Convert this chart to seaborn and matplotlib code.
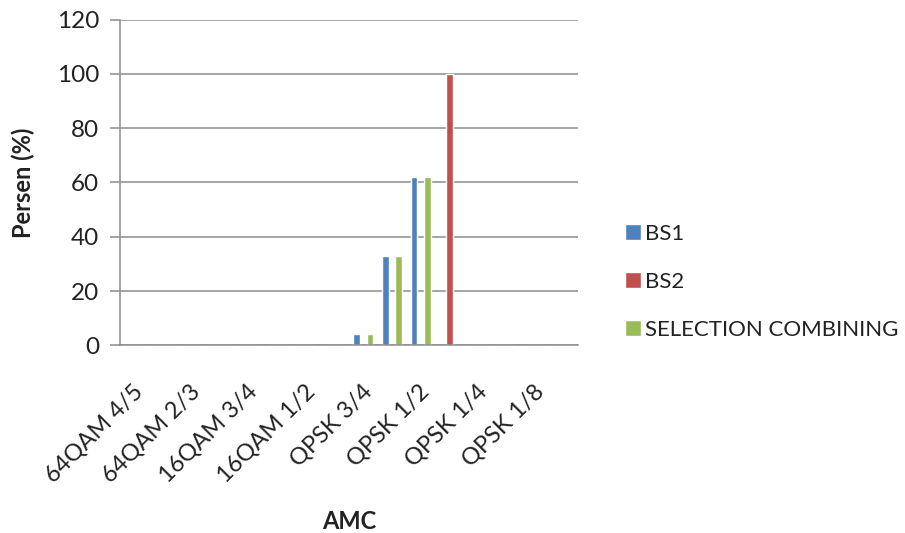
import matplotlib
matplotlib.use("Agg")
import matplotlib.pyplot as plt
import matplotlib.transforms as mtransforms
import seaborn as sns
import pandas as pd

# Category slots along the AMC axis; only every second slot carries a label
slots = list(range(16))
tick_labels = ["64QAM 4/5", "64QAM 2/3", "16QAM 3/4", "16QAM 1/2",
               "QPSK 3/4", "QPSK 1/2", "QPSK 1/4", "QPSK 1/8"]

series_names = ["BS1", "BS2", "SELECTION COMBINING"]
bs1 = [0, 0, 0, 0, 0, 0, 0, 0, 4.3, 33, 62, 0, 0, 0, 0, 0]
bs2 = [0, 0, 0, 0, 0, 0, 0, 0, 0, 0, 0, 100, 0, 0, 0, 0]
sc = [0, 0, 0, 0, 0, 0, 0, 0, 4.3, 33, 62, 0, 0, 0, 0, 0]

colors = ["#4F81BD", "#C0504D", "#9BBB59"]

rows = []
for name, vals in zip(series_names, [bs1, bs2, sc]):
    for s, v in zip(slots, vals):
        rows.append({"slot": s, "value": v, "series": name})
df = pd.DataFrame(rows)

sns.set_theme(style="white")
plt.rcParams["font.family"] = ["Lato", "DejaVu Sans"]

fig = plt.figure(figsize=(9.05, 5.33), dpi=100)
ax = fig.add_axes([0.1326, 0.3518, 0.5061, 0.6116])

sns.barplot(data=df, x="slot", y="value", hue="series", order=slots,
            hue_order=series_names, palette=colors, width=0.7,
            saturation=1, dodge=True, ax=ax, legend=True)

ax.set_xlim(-0.5, 15.5)
ax.set_ylim(0, 120)
ax.set_yticks(range(0, 121, 20))
ax.yaxis.grid(True, color="#8C8C8C", linewidth=1.1)
ax.set_axisbelow(True)

for side in ["top", "right"]:
    ax.spines[side].set_visible(False)
for side in ["left", "bottom"]:
    ax.spines[side].set_color("#8C8C8C")
    ax.spines[side].set_linewidth(1.1)

ax.tick_params(axis="y", which="both", left=True, length=7, width=1.1,
               color="#8C8C8C", labelsize=17.5, labelcolor="#222222", pad=8)

ax.set_xticks(slots[::2])
ax.set_xticklabels(tick_labels, rotation=45, ha="right",
                   rotation_mode="anchor", fontsize=17, color="#222222")
ax.tick_params(axis="x", bottom=False, length=0, pad=0)
offset = mtransforms.ScaledTranslation(-0.02, -0.35, fig.dpi_scale_trans)
for lbl in ax.get_xticklabels():
    lbl.set_transform(lbl.get_transform() + offset)

ax.set_xlabel("AMC", fontsize=17, fontweight="bold", color="#222222")
ax.xaxis.set_label_coords(0.5, -0.505)
ax.set_ylabel("Persen (%)", fontsize=17, fontweight="bold", color="#222222",
              labelpad=16)

handles, labels = ax.get_legend_handles_labels()
ax.legend(handles, labels, loc="center left", bbox_to_anchor=(1.058, 0.195),
          frameon=False, fontsize=16, handlelength=0.72, handleheight=0.72,
          handletextpad=0.2, labelspacing=1.25, labelcolor="#222222")

fig.savefig("out.png", dpi=100)
